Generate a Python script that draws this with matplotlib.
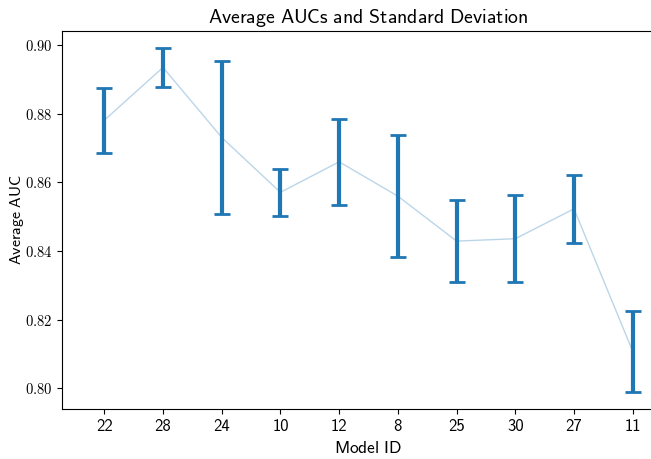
import matplotlib
matplotlib.use("Agg")
import matplotlib.pyplot as plt
from matplotlib.ticker import FuncFormatter

# mean AUC and std per model, in plotted order
model_ids = ["22", "28", "24", "10", "12", "8", "25", "30", "27", "11"]
mean_auc = [0.8781, 0.8935, 0.8731, 0.8571, 0.8660, 0.8560, 0.8429, 0.8436, 0.8523, 0.8108]
std_auc = [0.0094, 0.0056, 0.0222, 0.0069, 0.0125, 0.0178, 0.0120, 0.0127, 0.0099, 0.0118]

plt.rcParams["mathtext.fontset"] = "cm"

def sf(s):
    return r"$\mathsf{" + s.replace(" ", r"\ ") + "}$"

fig = plt.figure(figsize=(6.51, 4.59), dpi=100)
ax = fig.add_axes([62 / 651, 50 / 459, 613 / 651, 378 / 459])

x = list(range(len(model_ids)))
ax.plot(x, mean_auc, color="tab:blue", alpha=0.3, linewidth=1)
ax.errorbar(x, mean_auc, yerr=std_auc, fmt="none", ecolor="tab:blue",
            elinewidth=3, capsize=6, capthick=2)

ax.set_xlim(-0.72, 9.72)
ax.set_xticks(x)
ax.set_xticklabels(model_ids, fontsize=12, family="cmss10")
ax.set_yticks([0.80, 0.82, 0.84, 0.86, 0.88, 0.90])
ax.yaxis.set_major_formatter(FuncFormatter(lambda v, p: r"$%.2f$" % v))
ax.tick_params(axis="y", labelsize=10.5)

ax.set_title(sf("Average AUCs and Standard Deviation"), fontsize=14.3)
ax.set_xlabel(sf("Model ID"), fontsize=12.5)
ax.set_ylabel(sf("Average AUC"), fontsize=11.5)
ax.yaxis.set_label_coords(-0.058, 0.5)

fig.savefig("out.png", dpi=100)
